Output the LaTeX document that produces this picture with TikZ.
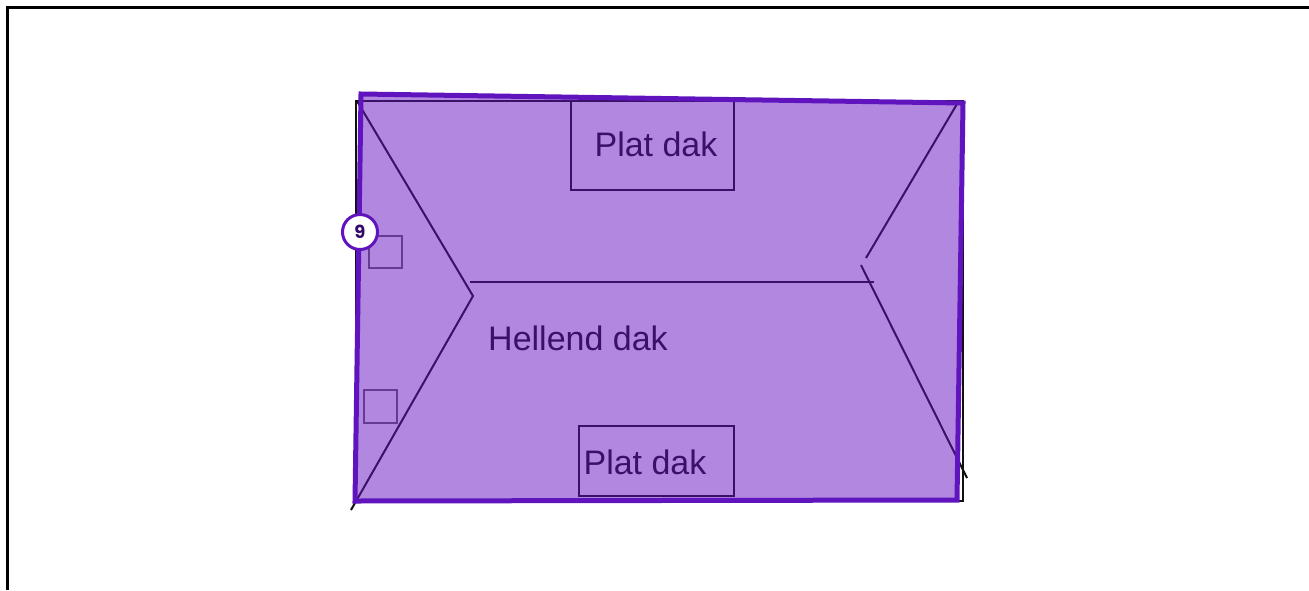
\documentclass[tikz,border=0pt]{standalone}
\usepackage{fontspec}
\setmainfont{Liberation Sans}
\newfontfamily\badgefont{Poppins}
\definecolor{roofpurple}{HTML}{6610C0}
\definecolor{roofedge}{HTML}{5F14BE}
\definecolor{roofink}{HTML}{111111}
\tikzset{
    sketch/.style={draw=roofink, line width=2pt},
    thinbox/.style={draw=black!60, line width=1.2pt},
    rooftext/.style={font=\fontsize{34}{34}\selectfont, text=roofink},
}
\begin{document}
\begin{tikzpicture}[x=1pt, y=-1pt]
    \useasboundingbox (0, 0) rectangle (1309, 590);

    \coordinate (tl) at (356, 101);
    \coordinate (tr) at (962.5, 101);
    \coordinate (br) at (962.5, 501);
    \coordinate (bl) at (356, 501);
    \coordinate (hipL) at (473, 296);
    \coordinate (hipTL) at (357, 101);
    \coordinate (hipBL) at (351, 510);
    \coordinate (hipTR) at (957, 104);
    \coordinate (hipR) at (866, 258);
    \coordinate (hipR2) at (861, 265);
    \coordinate (hipBR) at (967, 478);
    \coordinate (ridgeL) at (470, 282);
    \coordinate (ridgeR) at (874, 282);

    \draw[line width=3.5pt] (7.5, 590) -- (7.5, 7.5) -- (1309, 7.5);

    \draw[sketch] (tl) -- (tr) -- (br) -- (bl) -- cycle;
    \draw[sketch] (hipTL) -- (hipL) -- (hipBL);
    \draw[sketch] (hipTR) -- (hipR);
    \draw[sketch] (hipR2) -- (hipBR);
    \draw[sketch] (ridgeL) -- (ridgeR);

    \node[sketch, minimum width=163pt, minimum height=89pt, inner sep=0pt] (platTop) at (652.5, 145.5) {};
    \node[sketch, minimum width=155pt, minimum height=70pt, inner sep=0pt] (platBottom) at (656.5, 461) {};
    \node[thinbox, minimum width=33pt, minimum height=32pt, inner sep=0pt] (boxUp) at (385.5, 252) {};
    \node[thinbox, minimum width=33pt, minimum height=33pt, inner sep=0pt] (boxDown) at (380.5, 406.5) {};

    \node[rooftext] (platTopText) at (656, 144) {Plat dak};
    \node[rooftext] (platBottomText) at (645, 462) {Plat dak};
    \node[rooftext] (hellend) at (578, 338) {Hellend dak};

    \fill[roofpurple, opacity=0.5] (361, 94) -- (963, 103) -- (957, 500) -- (355, 501) -- cycle;
    \draw[roofedge, line width=5pt] (361, 94) -- (963, 103) -- (957, 500) -- (355, 501) -- cycle;

    \node[draw=roofedge, fill=white, circle, line width=3pt, minimum size=35pt, inner sep=0pt,
        font=\badgefont\bfseries\fontsize{18}{18}\selectfont, text=roofedge!55!black] (nine) at (360, 232) {9};
\end{tikzpicture}
\end{document}
